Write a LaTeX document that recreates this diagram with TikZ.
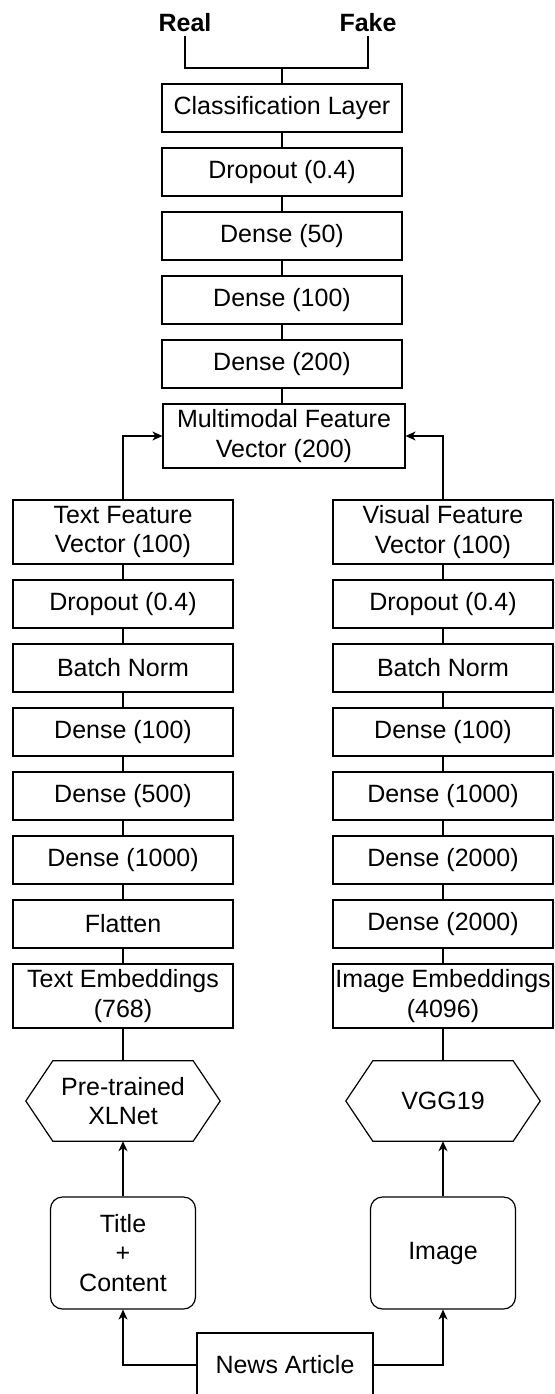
\documentclass[tikz,border=0pt]{standalone}
\usepackage{fontspec}
\setmainfont{Liberation Sans}
\usetikzlibrary{arrows.meta}
\begin{document}
\begin{tikzpicture}[x=1pt,y=-1pt]
\tikzset{
  txt/.style={font=\fontsize{25}{29.5}\selectfont, align=center, inner sep=0pt},
  lay/.style={txt, draw, line width=1.2pt, minimum width=240pt, minimum height=48pt},
  side/.style={lay, minimum width=220pt},
  tall/.style={minimum height=64pt},
  lbl/.style={font=\bfseries\fontsize{25}{29.5}\selectfont, inner sep=4pt},
  hexn/.style={txt, minimum width=194pt, minimum height=80pt},
  rbox/.style={txt, draw, line width=1.2pt, rounded corners=12pt, minimum width=145pt, minimum height=112pt},
  conn/.style={draw, line width=1.2pt},
  arr/.style={conn, -{Stealth[length=10pt,width=9pt,inset=3pt]}},
  hexline/.style={draw, line width=1.2pt, line join=miter}
}
\useasboundingbox (0,0) rectangle (554,1394);
\clip (0,0) rectangle (554,1394);
\fill[white] (0,0) rectangle (554,1394);

% top labels
\node[lbl, anchor=base] (real) at (185,32) {Real};
\node[lbl, anchor=base] (fake) at (368,32) {Fake};
\coordinate (j) at (282,68);

% central column
\node[lay] (cls) at (282,108) {Classification Layer};
\node[lay] (cdrop) at (282,172) {Dropout (0.4)};
\node[lay] (c50) at (282,236) {Dense (50)};
\node[lay] (c100) at (282,300) {Dense (100)};
\node[lay] (c200) at (282,364) {Dense (200)};
\node[lay, tall, minimum width=242pt] (mm) at (284,436) {Multimodal Feature\\Vector (200)};

% left column
\node[side, tall] (tfv) at (123,532) {Text Feature\\Vector (100)};
\node[side] (tdrop) at (123,604) {Dropout (0.4)};
\node[side] (tbn) at (123,668) {Batch Norm};
\node[side] (td1) at (123,732) {Dense (100)};
\node[side] (td2) at (123,796) {Dense (500)};
\node[side] (td3) at (123,860) {Dense (1000)};
\node[side] (tfl) at (123,924) {Flatten};
\node[side, tall] (temb) at (123,996) {Text Embeddings\\(768)};

% right column
\node[side, tall] (vfv) at (443,532) {Visual Feature\\Vector (100)};
\node[side] (vdrop) at (443,604) {Dropout (0.4)};
\node[side] (vbn) at (443,668) {Batch Norm};
\node[side] (vd1) at (443,732) {Dense (100)};
\node[side] (vd2) at (443,796) {Dense (1000)};
\node[side] (vd3) at (443,860) {Dense (2000)};
\node[side] (vd4) at (443,924) {Dense (2000)};
\node[side, tall] (vemb) at (443,996) {Image Embeddings\\(4096)};

% hexagons
\node[hexn] (xl) at (123,1101) {Pre-trained\\XLNet};
\node[hexn] (vgg) at (443,1101) {VGG19};
\foreach \h in {xl,vgg}{
  \draw[hexline] ([xshift=27pt]\h.north west) -- ([xshift=-27pt]\h.north east) -- (\h.east)
    -- ([xshift=-27pt]\h.south east) -- ([xshift=27pt]\h.south west) -- (\h.west) -- cycle;
}

% inputs
\node[rbox] (title) at (123,1253) {Title\\+\\Content};
\node[rbox] (img) at (443,1253) {Image};
\node[lay, tall, minimum width=176pt] (news) at (285,1365) {News Article};

% connectors
\draw[conn] (real.south) |- (j) -| (fake.south);
\draw[conn] (j) -- (cls.north);
\draw[conn] (cls) -- (cdrop);
\draw[conn] (cdrop) -- (c50);
\draw[conn] (c50) -- (c100);
\draw[conn] (c100) -- (c200);
\draw[conn] (c200.south) -- (c200.south |- mm.north);
\draw[arr] (tfv.north) |- (mm.west);
\draw[arr] (vfv.north) |- (mm.east);

\draw[conn] (tfv) -- (tdrop);
\draw[conn] (tdrop) -- (tbn);
\draw[conn] (tbn) -- (td1);
\draw[conn] (td1) -- (td2);
\draw[conn] (td2) -- (td3);
\draw[conn] (td3) -- (tfl);
\draw[conn] (tfl) -- (temb);
\draw[conn] (temb.south) -- (xl.north);

\draw[conn] (vfv) -- (vdrop);
\draw[conn] (vdrop) -- (vbn);
\draw[conn] (vbn) -- (vd1);
\draw[conn] (vd1) -- (vd2);
\draw[conn] (vd2) -- (vd3);
\draw[conn] (vd3) -- (vd4);
\draw[conn] (vd4) -- (vemb);
\draw[conn] (vemb.south) -- (vgg.north);

\draw[arr] (title.north) -- (xl.south);
\draw[arr] (img.north) -- (vgg.south);
\draw[arr] (news.west) -| (title.south);
\draw[arr] (news.east) -| (img.south);
\end{tikzpicture}
\end{document}
